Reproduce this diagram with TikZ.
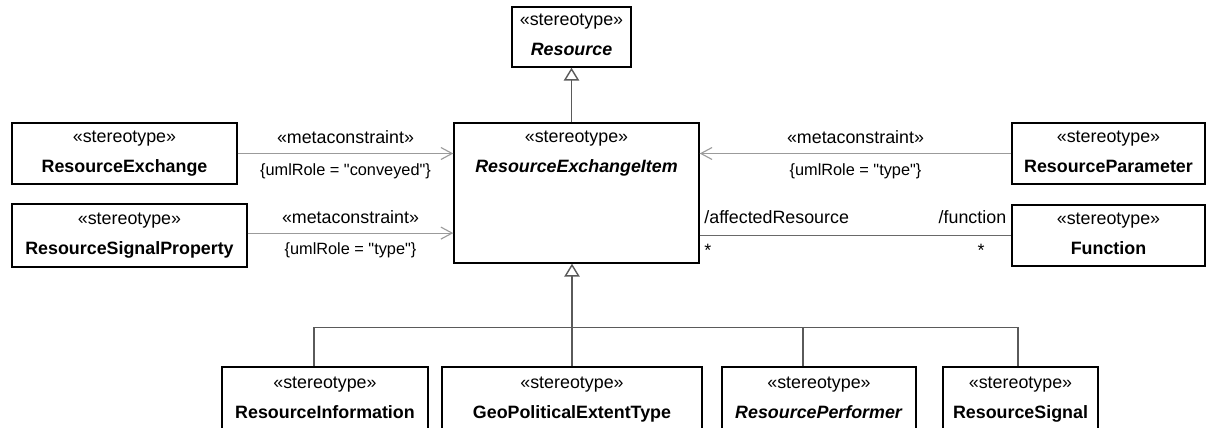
\documentclass[tikz,border=0pt]{standalone}
\usepackage{fontspec}
\setmainfont{Liberation Sans}[Ligatures=TeXOff]
\usetikzlibrary{arrows.meta,positioning,calc}
\definecolor{metaGrey}{RGB}{155,155,155}
\definecolor{genGrey}{RGB}{90,90,90}
\definecolor{assocGrey}{RGB}{105,105,105}
\newcommand{\clsfont}{\fontsize{12.7}{21.3}\selectfont}
\newcommand{\lblfont}{\fontsize{12.7}{15}\selectfont}
\newcommand{\cstfont}{\fontsize{11.6}{14}\selectfont}
\newcommand{\stereo}{«stereotype»}
\tikzset{
    every node/.append style={align=center},
    cls/.style={rectangle,draw=black,line width=1pt,font=\clsfont,inner sep=0pt,
        text depth=0.11cm,minimum height=1.525cm},
    lbl/.style={font=\lblfont,inner sep=0pt},
    clbl/.style={font=\cstfont,inner sep=0pt},
    meta/.style={-{Straight Barb[length=2.8mm,width=3mm]},draw=metaGrey,line width=0.8pt},
    gen/.style={-{Triangle[open,length=3.2mm,width=3.8mm]},draw=genGrey,line width=1pt},
    tree/.style={draw=genGrey,line width=1pt},
    assoc/.style={draw=assocGrey,line width=1pt}
}

\begin{document}
\begin{tikzpicture}
    \useasboundingbox (0,0) rectangle (30.15,-10.675);
    % general classes
    \node[cls,minimum width=2.975cm,minimum height=1.5cm] (res)   at (14.2875,-0.925) {\stereo\\\textbf{\textit{Resource}}};
    \node[cls,minimum width=6.125cm,minimum height=3.5cm,text depth=2.085cm] (rei) at (14.4125,-4.825) {\stereo\\\textbf{\textit{ResourceExchangeItem}}};
    % neighbours
    \node[cls,minimum width=5.625cm]                       (rexch)    at (3.1125,-3.8375)  {\stereo\\\textbf{ResourceExchange}};
    \node[cls,minimum width=5.875cm,minimum height=1.575cm] (rsigprop) at (3.2375,-5.8875)  {\stereo\\\textbf{ResourceSignalProperty}};
    \node[cls,minimum width=4.825cm]                       (rparam)   at (27.7125,-3.8375) {\stereo\\\textbf{ResourceParameter}};
    \node[cls,minimum width=4.825cm]                       (func)     at (27.7125,-5.8875) {\stereo\\\textbf{Function}};
    % specialisations (cut off at the bottom)
    \node[cls,minimum width=5.15cm,minimum height=1.65cm]  (rinfo) at (8.125,-10.0)   {\stereo\\\textbf{ResourceInformation}};
    \node[cls,minimum width=6.5cm,minimum height=1.65cm]   (geo)   at (14.3,-10.0)    {\stereo\\\textbf{GeoPoliticalExtentType}};
    \node[cls,minimum width=4.85cm,minimum height=1.65cm]  (rperf) at (20.475,-10.0)  {\stereo\\\textbf{\textit{ResourcePerformer}}};
    \node[cls,minimum width=3.875cm,minimum height=1.65cm] (rsig)  at (25.5125,-10.0) {\stereo\\\textbf{ResourceSignal}};

    \draw[gen] (res.south |- rei.north) -- (res.south);
    \coordinate (bus) at ($(geo.north)+(0,0.975)$);
    \foreach \n/\dx in {rinfo/-0.275,rperf/-0.4,rsig/-0.06}
        \draw[tree] ([xshift=\dx cm]\n.north) |- (bus);
    \draw[gen] (geo.north) -- (geo.north |- rei.south);

    \draw[meta] (rexch.east) -- node[lbl,anchor=base,yshift=0.25cm]{«metaconstraint»}
        node[clbl,anchor=base,yshift=-0.55cm]{\{umlRole = "conveyed"\}} (rexch.east -| rei.west);
    \draw[meta] ([yshift=0.06cm]rsigprop.east) -- node[lbl,anchor=base,yshift=0.25cm]{«metaconstraint»}
        node[clbl,anchor=base,yshift=-0.53cm]{\{umlRole = "type"\}} ([yshift=0.06cm]rsigprop.east -| rei.west);
    \draw[meta] (rparam.west) -- node[lbl,anchor=base,yshift=0.25cm]{«metaconstraint»}
        node[clbl,anchor=base,yshift=-0.55cm]{\{umlRole = "type"\}} (rparam.west -| rei.east);

    \draw[assoc] (func.west -| rei.east)
        -- node[lbl,pos=0,anchor=base west,xshift=0.1cm,yshift=0.29cm]{/affectedResource}
           node[lbl,pos=0,anchor=base west,xshift=0.1cm,yshift=-0.53cm]{*}
           node[lbl,pos=1,anchor=base east,xshift=-0.11cm,yshift=0.29cm]{/function}
           node[lbl,pos=1,anchor=base east,xshift=-0.65cm,yshift=-0.53cm]{*} (func.west);
\end{tikzpicture}
\end{document}
